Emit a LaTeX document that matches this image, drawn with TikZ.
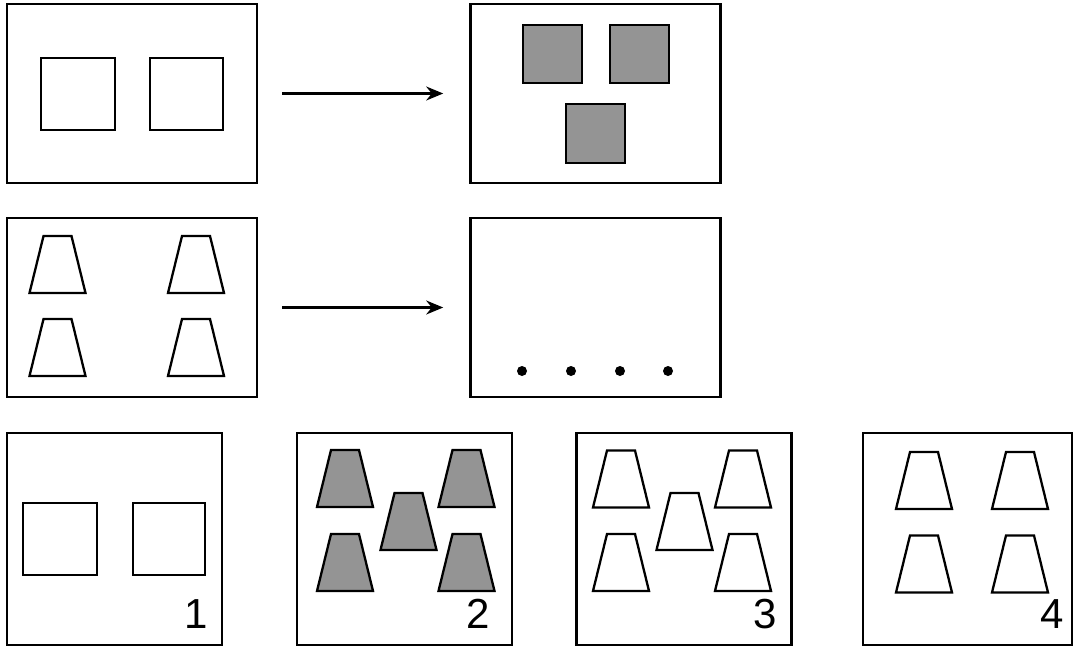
\documentclass[tikz,border=0pt]{standalone}
\usepackage{fontspec}
\setsansfont{Liberation Sans}
\usetikzlibrary{arrows.meta}
\begin{document}
\begin{tikzpicture}[
        x=0.5pt, y=-0.5pt,
        panel/.style = {draw, line width=1.3pt, inner sep=0pt, minimum width=125pt, minimum height=89.5pt},
        answer/.style = {panel, minimum width=107.5pt, minimum height=106pt},
        shape line/.style = {draw, line width=1.15pt, line join=miter},
        shaded/.style = {fill=black!42},
        number/.style = {anchor=base, inner sep=0pt, font=\sffamily\fontsize{21}{21}\selectfont},
        link/.style = {-{Stealth[length=8.5pt, width=7pt]}, line width=1.1pt, shorten <=12pt, shorten >=13pt},
        trap/.pic = {\path[pic actions] (-14,-28.5) -- (14,-28.5) -- (28,28.5) -- (-28,28.5) -- cycle;}
    ]
    \useasboundingbox (0,0) rectangle (1077,648);

    \node[panel] (squares) at (132,93.5) {};
    \node[panel] (squaresOut) at (595.5,93.5) {};
    \node[panel] (traps) at (132,307.5) {};
    \node[panel] (trapsOut) at (595.5,307.5) {};
    \node[answer] (ans1) at (114.5,539) {};
    \node[answer] (ans2) at (404.5,539) {};
    \node[answer] (ans3) at (684,539) {};
    \node[answer, minimum width=104.5pt] (ans4) at (967.5,539) {};

    \draw[link] (squares.east) -- (squaresOut.west);
    \draw[link] (traps.east) -- (trapsOut.west);

    \draw[shape line] (41,58) rectangle (115,130);
    \draw[shape line] (150,58) rectangle (223,130);
    \draw[shape line, shaded] (523,25) rectangle (582,83);
    \draw[shape line, shaded] (610,25) rectangle (669,83);
    \draw[shape line, shaded] (566,104) rectangle (625,163);

    \foreach \x/\y in {57.5/264.5, 196/264.5, 57.5/347.5, 196/347.5}
        \pic[shape line] at (\x,\y) {trap};
    \foreach \x in {522, 571, 620, 668}
        \fill (\x,371) circle (2.5pt);

    \draw[shape line] (23,503) rectangle (97,575);
    \draw[shape line] (133,503) rectangle (205,575);
    \foreach \x/\y in {345/478.5, 466.5/478.5, 408.5/521.5, 345/562.5, 466.5/562.5}
        \pic[shape line, shaded] at (\x,\y) {trap};
    \foreach \x/\y in {621/479, 743/479, 684.5/521.5, 621/562.5, 743/562.5}
        \pic[shape line] at (\x,\y) {trap};
    \foreach \x/\y in {924/480.5, 1020/480.5, 924/564, 1020/564}
        \pic[shape line] at (\x,\y) {trap};

    \node[number] (num1) at (196,628) {1};
    \node[number] (num2) at (478,628) {2};
    \node[number] (num3) at (765,628) {3};
    \node[number] (num4) at (1052,628) {4};
\end{tikzpicture}
\end{document}
